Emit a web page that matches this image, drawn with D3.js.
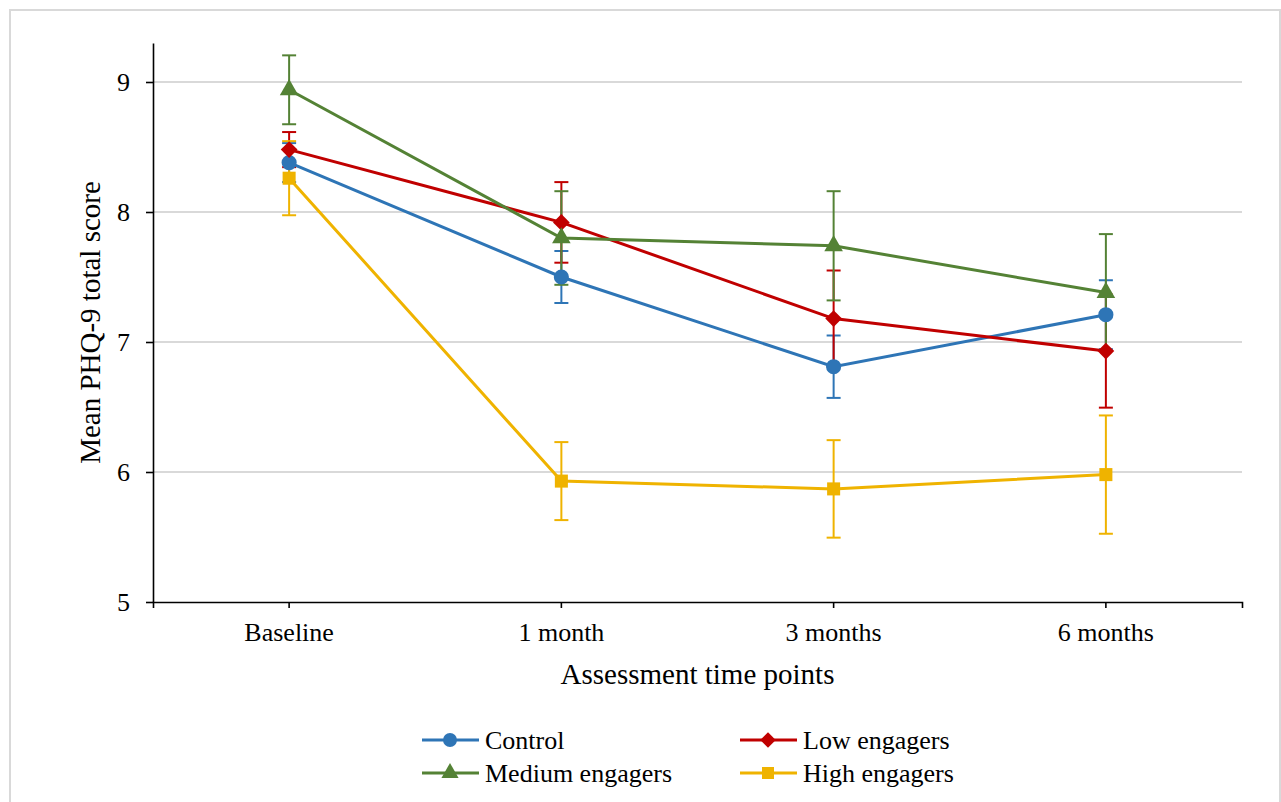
<!DOCTYPE html>
<html><head><meta charset="utf-8">
<script src="https://cdn.jsdelivr.net/npm/d3@7"></script>
<style>body{margin:0;background:#fff}svg{display:block}text{font-family:"Liberation Serif","Times New Roman",serif;fill:#000}</style>
</head><body><svg id="c" width="1281" height="802"></svg>
<script>
const timePoints = ["Baseline","1 month","3 months","6 months"];
const yTicks = [5,6,7,8,9];
const seriesNames = ["Control","Low engagers","Medium engagers","High engagers"];
const controlMean = [8.38,7.50,6.81,7.21];
const controlErr  = [0.15,0.20,0.24,0.265];
const lowMean = [8.48,7.92,7.18,6.93];
const lowErr  = [0.135,0.31,0.37,0.435];
const mediumMean = [8.94,7.80,7.74,7.38];
const mediumErr  = [0.265,0.36,0.42,0.45];
const highMean = [8.26,5.93,5.87,5.98];
const highErr  = [0.285,0.30,0.375,0.455];

const series = [
  {name:seriesNames[0], mean:controlMean, err:controlErr, color:"#2e75b6", sym:d3.symbolCircle, size:180, rot:0},
  {name:seriesNames[1], mean:lowMean, err:lowErr, color:"#c00000", sym:d3.symbolSquare, size:140, rot:45},
  {name:seriesNames[2], mean:mediumMean, err:mediumErr, color:"#548235", sym:d3.symbolTriangle, size:150, rot:0},
  {name:seriesNames[3], mean:highMean, err:highErr, color:"#efb300", sym:d3.symbolSquare, size:170, rot:0}
];
const FONT = "Liberation Serif, Times New Roman, serif";

const svg = d3.select("#c");
svg.append("rect").attr("x",10).attr("y",10).attr("width",1270).attr("height",820)
  .attr("fill","none").attr("stroke","#d9d9d9").attr("stroke-width",2);

const L=153, R=1242, T=43, B=602;
const x = d3.scaleBand().domain(timePoints).range([L,R]);
const y = d3.scaleLinear().domain([5,9.3]).range([B,T]);
const cx = d => x(d)+x.bandwidth()/2;

// gridlines
svg.append("g").selectAll("line").data(yTicks.filter(t=>t>5)).join("line")
  .attr("x1",L).attr("x2",R).attr("y1",d=>y(d)).attr("y2",d=>y(d))
  .attr("stroke","#d9d9d9").attr("stroke-width",2);

// y axis
const ya = svg.append("g").attr("transform",`translate(${L},0)`)
  .call(d3.axisLeft(y).tickValues(yTicks).tickFormat(d3.format("d")).tickSize(7).tickPadding(16).tickSizeOuter(0))
  .attr("font-family",FONT).attr("font-size",26);
ya.select(".domain").attr("stroke","#000").attr("stroke-width",1.6);
ya.selectAll(".tick line").attr("stroke","#000").attr("stroke-width",1.6);

// x axis
const xa = svg.append("g").attr("transform",`translate(0,${B})`)
  .call(d3.axisBottom(x).tickSize(6).tickPadding(15).tickSizeOuter(6))
  .attr("font-family",FONT).attr("font-size",26);
xa.select(".domain").attr("stroke","#000").attr("stroke-width",1.6);
xa.selectAll(".tick line").attr("stroke","#000").attr("stroke-width",1.6);

// titles
svg.append("text").attr("x",(L+R)/2).attr("y",684).attr("text-anchor","middle")
  .attr("font-family",FONT).attr("font-size",29).text("Assessment time points");
svg.append("text").attr("transform",`translate(100,${(T+B)/2}) rotate(-90)`)
  .attr("text-anchor","middle").attr("font-family",FONT).attr("font-size",29).text("Mean PHQ-9 total score");

// error bars
const cap=7;
series.forEach(s=>{
  const g = svg.append("g").attr("stroke",s.color).attr("stroke-width",2);
  timePoints.forEach((t,i)=>{
    const xc=cx(t), y1=y(s.mean[i]+s.err[i]), y2=y(s.mean[i]-s.err[i]);
    g.append("line").attr("x1",xc).attr("x2",xc).attr("y1",y1).attr("y2",y2);
    g.append("line").attr("x1",xc-cap).attr("x2",xc+cap).attr("y1",y1).attr("y2",y1);
    g.append("line").attr("x1",xc-cap).attr("x2",xc+cap).attr("y1",y2).attr("y2",y2);
  });
});
// lines
const line = d3.line().x((d,i)=>cx(timePoints[i])).y(d=>y(d));
series.forEach(s=>{
  svg.append("path").attr("d",line(s.mean)).attr("fill","none")
    .attr("stroke",s.color).attr("stroke-width",3);
});
// markers
series.forEach(s=>{
  svg.append("g").selectAll("path").data(s.mean).join("path")
    .attr("transform",(d,i)=>`translate(${cx(timePoints[i])},${y(d)}) rotate(${s.rot})`)
    .attr("d",d3.symbol().type(s.sym).size(s.size)).attr("fill",s.color);
});

// legend
const legendPos = [[422,740],[740,740],[422,773],[740,773]];
series.forEach((s,i)=>{
  const [lx,ly]=legendPos[i];
  const g = svg.append("g").attr("transform",`translate(${lx},${ly})`);
  g.append("line").attr("x1",0).attr("x2",57).attr("y1",0).attr("y2",0)
    .attr("stroke",s.color).attr("stroke-width",3);
  g.append("path").attr("transform",`translate(28,0) rotate(${s.rot})`)
    .attr("d",d3.symbol().type(s.sym).size(s.size*0.85)).attr("fill",s.color);
  g.append("text").attr("x",63).attr("y",9).attr("font-family",FONT).attr("font-size",26).text(s.name);
});
</script></body></html>
